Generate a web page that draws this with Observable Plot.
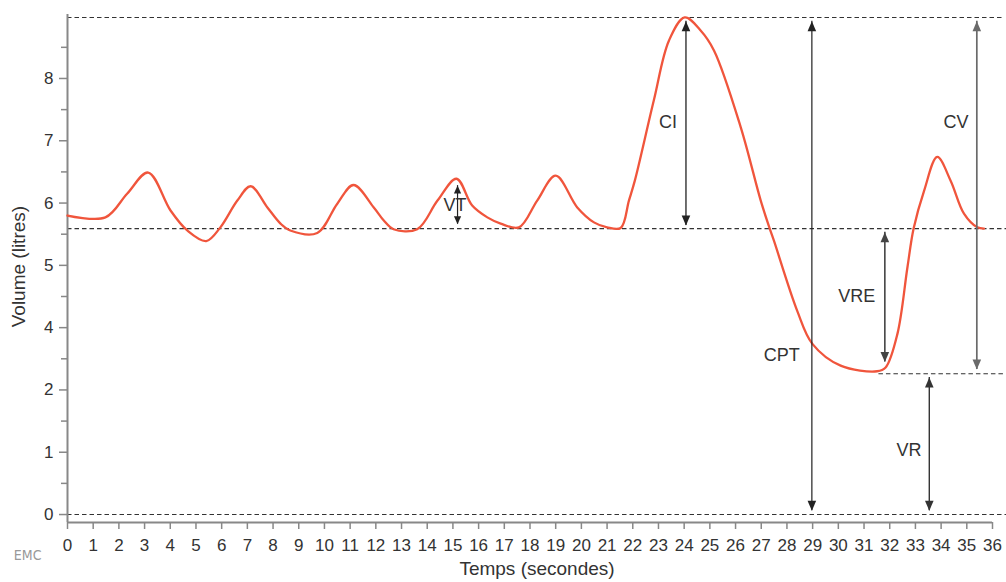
<!DOCTYPE html>
<html>
<head>
<meta charset="utf-8">
<script src="https://cdn.jsdelivr.net/npm/d3@7"></script>
<script src="https://cdn.jsdelivr.net/npm/@observablehq/plot@0.6"></script>
<style>
  html, body { margin: 0; padding: 0; background: #fff; }
  #chart { width: 1006px; height: 582px; }
</style>
</head>
<body>
<div id="chart"></div>
<script>
// ---- Data ----
const timeSec = [0, 1.475, 2.32, 3.14, 4.01, 4.66, 5.40, 5.95, 6.61, 7.13, 7.78, 8.29, 8.67, 9.72,
  10.50, 11.13, 11.92, 12.31, 12.69, 13.61, 14.40, 15.14, 15.75, 16.34, 16.86, 17.57, 18.28, 19.0,
  19.84, 20.49, 21.0, 21.53, 21.85, 22.08, 22.82, 23.41, 24.02, 24.64, 25.16, 26.20, 26.98, 27.33,
  27.49, 28.40, 28.99, 30.09, 31.51, 31.84, 32.30, 32.69, 32.93, 33.34, 33.85, 34.37, 34.89, 35.41, 35.67];
const volume = [4.80, 4.77, 5.15, 5.49, 4.88, 4.56, 4.39, 4.61, 5.04, 5.27, 4.93, 4.67, 4.56, 4.52,
  4.99, 5.29, 4.93, 4.72, 4.58, 4.58, 5.04, 5.39, 4.96, 4.77, 4.67, 4.61, 5.04, 5.44,
  4.93, 4.69, 4.61, 4.60, 5.04, 5.36, 6.65, 7.61, 7.98, 7.77, 7.45, 6.22, 5.04, 4.59,
  4.40, 3.27, 2.74, 2.39, 2.30, 2.36, 2.90, 3.97, 4.59, 5.20, 5.74, 5.36, 4.83, 4.61, 4.59];

// tick labels (the original figure skips "3")
const xTicks = [0,1,2,3,4,5,6,7,8,9,10,11,12,13,14,15,16,17,18,19,20,21,22,23,24,25,26,27,28,29,30,31,32,33,34,35,36];
const yTickPos = [0, 1, 2, 3, 4, 5, 6, 7];
const yTickLabels = ["0", "1", "2", "4", "5", "6", "7", "8"];
const yMinorTicks = [0.5, 1.5, 2.5, 3.5, 4.5, 5.5, 6.5, 7.5];

// dashed reference levels
const dashLevel = [7.98, 4.59, 0, 2.26];
const dashFrom  = [0, 0, 0, 31.58];
const dashTo    = [36.45, 36.56, 36.56, 36.45];

// double-headed arrows
const arrowName   = ["VT", "CI", "CPT", "CV", "VRE", "VR"];
const arrowX      = [15.18, 24.07, 28.97, 35.39, 31.81, 33.54];
const arrowTop    = [5.28, 7.92, 7.92, 7.92, 4.53, 2.20];
const arrowBottom = [4.66, 4.64, 0.06, 2.33, 2.45, 0.06];
const arrowColor  = ["#222", "#222", "#222", "#6a6a6a", "#444", "#333"];
const arrowWidth  = [1.2, 1.3, 1.2, 1.7, 1.6, 1.4];

// annotation labels
const labelText = ["VT", "CI", "CPT", "CV", "VRE", "VR"];
const labelX    = [15.08, 23.37, 27.80, 34.58, 30.72, 32.75];
const labelY    = [4.96, 6.29, 2.55, 6.29, 3.50, 1.04];

const xDomain = [0, 36];
const yDomain = [-0.128, 8.027];

// ---- Build tables ----
const curve = timeSec.map((t, i) => ({t, v: volume[i]}));
const dashes = dashLevel.map((y, i) => ({y, x1: dashFrom[i], x2: dashTo[i]}));
const arrows = arrowName.map((n, i) => ({n, x: arrowX[i], top: arrowTop[i], bottom: arrowBottom[i], c: arrowColor[i], w: arrowWidth[i]}));
const labels = labelText.map((s, i) => ({s, x: labelX[i], y: labelY[i]}));

// arrowheads with the tip at the origin
const headUp = {draw(ctx) { ctx.moveTo(0, 0); ctx.lineTo(-4.3, 10); ctx.lineTo(4.3, 10); ctx.closePath(); }};
const headDown = {draw(ctx) { ctx.moveTo(0, 0); ctx.lineTo(-4.3, -10); ctx.lineTo(4.3, -10); ctx.closePath(); }};
const headUpSmall = {draw(ctx) { ctx.moveTo(0, 0); ctx.lineTo(-3.6, 8); ctx.lineTo(3.6, 8); ctx.closePath(); }};
const headDownSmall = {draw(ctx) { ctx.moveTo(0, 0); ctx.lineTo(-3.6, -8); ctx.lineTo(3.6, -8); ctx.closePath(); }};
const big = arrows.filter(d => d.n !== "VT");
const small = arrows.filter(d => d.n === "VT");

const font = "'Liberation Sans', Arial, Helvetica, sans-serif";

const chart = Plot.plot({
  width: 1006,
  height: 582,
  marginLeft: 67,
  marginRight: 14,
  marginTop: 14,
  marginBottom: 60,
  x: {domain: xDomain},
  y: {domain: yDomain},
  style: {fontFamily: font, fontSize: "17px", color: "#333", background: "#fff", overflow: "visible"},
  marks: [
    // dashed levels
    Plot.ruleY(dashes, {y: "y", x1: "x1", x2: "x2", stroke: "#333", strokeWidth: 1.1, strokeDasharray: "4.5,3"}),
    // axis lines
    Plot.ruleX([xDomain[0]], {y1: yDomain[0], y2: yDomain[1], stroke: "#888", strokeWidth: 2}),
    Plot.ruleY([yDomain[0]], {x1: xDomain[0], x2: xDomain[1], stroke: "#888", strokeWidth: 2}),
    Plot.axisX(xTicks, {anchor: "bottom", tickSize: 7, tickPadding: 9, stroke: "#888", strokeWidth: 1.5, fill: "#333", fontSize: 17, label: null, tickFormat: d => String(d)}),
    Plot.axisY(yTickPos, {anchor: "left", tickSize: 8, tickPadding: 6, stroke: "#888", strokeWidth: 1.5, fill: "#333", fontSize: 17, label: null, tickFormat: d => yTickLabels[yTickPos.indexOf(d)]}),
    Plot.axisY(yMinorTicks, {anchor: "left", tickSize: 6, stroke: "#888", strokeWidth: 1.5, label: null, tickFormat: () => ""}),
    // axis titles
    Plot.text(["Temps (secondes)"], {frameAnchor: "bottom", dx: 7, dy: 52, fontSize: 19, fill: "#333"}),
    Plot.text(["Volume (litres)"], {x: -1.9, y: 3.98, rotate: -90, fontSize: 19, fill: "#333"}),
    Plot.text(["EMC"], {x: -1.55, y: -0.66, fontSize: 14, fill: "#999", fontFamily: "'Liberation Sans Narrow', 'DejaVu Sans Condensed', sans-serif"}),
    // volume curve
    Plot.line(curve, {x: "t", y: "v", curve: "catmull-rom", stroke: "#f0553c", strokeWidth: 2.3, strokeLinejoin: "round"}),
    // arrows
    Plot.ruleX(arrows, {x: "x", y1: "top", y2: "bottom", stroke: "c", strokeWidth: "w"}),
    Plot.dot(big, {x: "x", y: "top", symbol: headUp, r: 4, fill: "c", stroke: null}),
    Plot.dot(big, {x: "x", y: "bottom", symbol: headDown, r: 4, fill: "c", stroke: null}),
    Plot.dot(small, {x: "x", y: "top", symbol: headUpSmall, r: 4, fill: "c", stroke: null}),
    Plot.dot(small, {x: "x", y: "bottom", symbol: headDownSmall, r: 4, fill: "c", stroke: null}),
    // labels
    Plot.text(labels, {x: "x", y: "y", text: "s", fontSize: 18, fill: "#333"})
  ]
});
document.getElementById("chart").append(chart);
</script>
</body>
</html>
